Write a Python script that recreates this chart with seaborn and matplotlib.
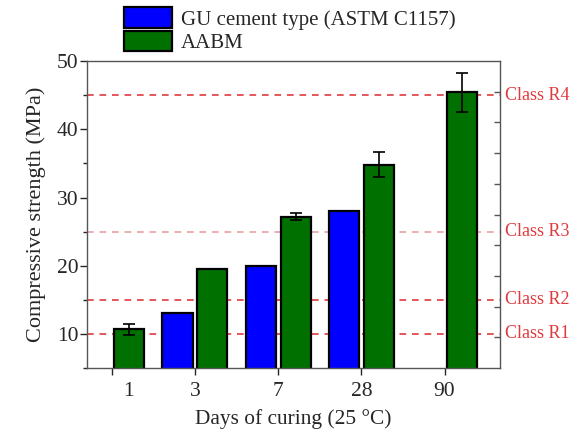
import numpy as np
import pandas as pd
import seaborn as sns
import matplotlib.pyplot as plt
from matplotlib.ticker import MultipleLocator
from matplotlib.transforms import ScaledTranslation, blended_transform_factory

# data
days = ["1", "3", "7", "28", "90"]
gu_strength = [np.nan, 13.0, 20.0, 28.0, np.nan]
aabm_strength = [10.7, 19.5, 27.2, 34.8, 45.4]
aabm_err = [0.8, 0.0, 0.5, 1.8, 2.8]
series = ["GU cement type (ASTM C1157)", "AABM"]
class_names = ["Class R1", "Class R2", "Class R3", "Class R4"]
class_limits = [10, 15, 25, 45]

rows = []
for d, g, a in zip(days, gu_strength, aabm_strength):
    if not np.isnan(g):
        rows.append((d, series[0], g))
    rows.append((d, series[1], a))
df = pd.DataFrame(rows, columns=["day", "type", "strength"])

sns.set_style("ticks")
plt.rcParams["font.family"] = ["Liberation Serif", "DejaVu Serif"]

fig = plt.figure(figsize=(5.75, 4.3), dpi=100)
ax = fig.add_axes([0.151, 0.144, 0.719, 0.714])

red = "#e03a3e"
line_colors = [red, red, "#eba0a6", red]
for lim, c in zip(class_limits, line_colors):
    ax.axhline(lim, color=c, ls=(0, (4, 3.5)), lw=1.2, zorder=0)

sns.barplot(data=df, x="day", y="strength", hue="type", order=days,
            hue_order=series, palette=["#0000ff", "#007000"],
            width=0.84, gap=0.14, edgecolor="black", linewidth=1.6,
            saturation=1, ax=ax, zorder=2)

# error bars on the AABM bars
aabm_bars = ax.containers[1]
xs = [p.get_x() + p.get_width() / 2 for p in aabm_bars]
ax.errorbar(xs, aabm_strength, yerr=aabm_err, fmt="none", ecolor="black",
            elinewidth=1.2, capsize=4, capthick=1.2, zorder=3)

ax.set_ylim(5, 50)
ax.set_xlim(-0.30, 4.67)
ax.yaxis.set_major_locator(MultipleLocator(10))
ax.yaxis.set_minor_locator(MultipleLocator(5))
ax.tick_params(axis="y", which="major", length=5, width=1, labelsize=15.5, pad=1)
ax.tick_params(axis="y", which="minor", length=3, width=1)
ax.tick_params(axis="x", length=5, width=1, labelsize=15.5, pad=5)

# the "1" label sits under its bar in the original
lab = ax.get_xticklabels()[0]
lab.set_transform(lab.get_transform() + ScaledTranslation(0.17, 0, fig.dpi_scale_trans))

ax.set_xlabel("Days of curing (25 °C)", fontsize=15.4, labelpad=6)
ax.set_ylabel("Compressive strength (MPa)", fontsize=16, labelpad=8)

for s in ax.spines.values():
    s.set_color("#555555")
    s.set_linewidth(1)

# inward ticks on the right spine
ax2 = ax.twinx()
ax2.set_ylim(5, 50)
ax2.set_yticks(np.arange(9.5, 46, 4.5))
ax2.tick_params(axis="y", direction="in", length=4, width=1, labelright=False,
                color="#555555")
for s in ax2.spines.values():
    s.set_visible(False)

trans = blended_transform_factory(ax.transAxes, ax.transData)
for name, lim in zip(class_names, class_limits):
    ax.text(1.012, lim, name, transform=trans, color=red, fontsize=13,
            va="center", ha="left")

handles, labels = ax.get_legend_handles_labels()
ax.legend_.remove()
fig.legend(handles, labels, loc="upper left", bbox_to_anchor=(0.215, 0.983),
           frameon=False, fontsize=15, handlelength=2.3, handleheight=1.15,
           labelspacing=0.05, handletextpad=0.45, borderpad=0, borderaxespad=0)

fig.savefig("out.png", dpi=100)
